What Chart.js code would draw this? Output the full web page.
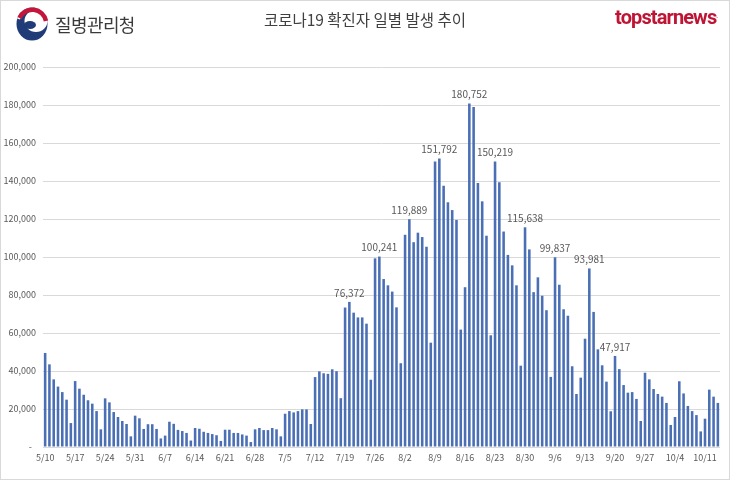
<!DOCTYPE html>
<html>
<head>
<meta charset="utf-8">
<script src="https://cdn.jsdelivr.net/npm/chart.js@4.4.0/dist/chart.umd.min.js"></script>
<style>
  html, body { margin: 0; padding: 0; background: #fff; }
  #wrap { position: relative; width: 730px; height: 480px; overflow: hidden; }
  #chart { position: absolute; left: 0; top: 0; }
  #frame { position: absolute; left: 0; top: 0; width: 730px; height: 480px; box-sizing: border-box; border: 1px solid #d9d9d9; pointer-events: none; }
  #title { position: absolute; left: 0; top: 8px; width: 730px; text-align: center; font: 15.5px 'Noto Sans CJK KR', sans-serif; color: #404040; }
  #kdca { position: absolute; left: 55px; top: 11px; font: 18px 'Noto Sans CJK KR', sans-serif; color: #3a3a3a; letter-spacing: -0.6px; }
  #emblem { position: absolute; left: 16px; top: 7px; }
  #brand { position: absolute; right: 12px; top: 5px; font: bold 20px Roboto, sans-serif; color: #bf1535; letter-spacing: -0.9px; }
  #brand sup { font-size: 6px; letter-spacing: 0; vertical-align: 6px; }
</style>
</head>
<body>
<div id="wrap">
  <canvas id="chart" width="730" height="480"></canvas>
  <svg id="emblem" width="33" height="34" viewBox="0 0 33 34">
    <ellipse cx="16" cy="17" rx="15.5" ry="16.5" fill="#1f3c78"/>
    <ellipse cx="20" cy="14" rx="11.5" ry="11" fill="#fff"/>
    <ellipse cx="14" cy="18" rx="6" ry="4" fill="#1f3c78"/>
    <path d="M2.5 12 A15 15 0 0 1 31 13" fill="none" stroke="#fff" stroke-width="3"/>
    <path d="M3.5 11 A14 14 0 0 1 30 14" fill="none" stroke="#c4163a" stroke-width="4.5"/>
  </svg>
  <div id="kdca">질병관리청</div>
  <div id="title">코로나19 확진자 일별 발생 추이</div>
  <div id="brand">topstarnews<sup>.</sup></div>
  <div id="frame"></div>
</div>
<script>
// daily confirmed cases
const mayValues = [49500, 43500, 35600, 31800, 28900, 24900, 12600, 34700, 30700, 27500, 24600,
  22800, 18900, 9300, 25600, 23500, 18400, 15800, 13700, 12100, 5600, 16500];            // 5/10 - 5/31
const juneValues = [15100, 9500, 12000, 12000, 9500, 4500, 6000, 13300, 12200, 9000, 8400, 7400,
  3400, 10000, 9600, 8000, 7400, 6800, 6200, 3200, 9100, 9100, 7400, 7400, 6600, 6000, 2600,
  9300, 10000, 8900];                                                                    // 6/1 - 6/30
const julyValues = [8900, 10000, 9300, 5600, 17500, 18900, 18200, 18900, 19800, 19800, 12100,
  36800, 39800, 38800, 38500, 40900, 39900, 25700, 73400, 76372, 70700, 68200, 68200, 64900,
  35400, 99300, 100241, 88400, 85100, 81800, 73500];                                     // 7/1 - 7/31
const augValues = [44100, 111700, 119889, 107800, 112800, 110500, 105400, 54900, 150200, 151792,
  137500, 128800, 124700, 119500, 61800, 84100, 180752, 179000, 138900, 129300, 111200, 58800,
  150219, 139300, 113400, 101100, 95600, 85100, 42800, 115638, 104000];                  // 8/1 - 8/31
const sepValues = [81500, 89300, 79600, 72000, 36900, 99837, 85400, 72500, 69100, 42500, 27900,
  36500, 57000, 93981, 71100, 51400, 43000, 34400, 18800, 47917, 41000, 32600, 28600, 28900,
  25300, 13700, 39100, 35600, 30500, 27900];                                             // 9/1 - 9/30
const octValues = [26500, 23200, 11600, 15800, 34600, 28200, 21600, 18900, 16800, 8200, 14900,
  30200, 26500, 23200];                                                                  // 10/1 - 10/14

const xTickLabels = ["5/10", "5/17", "5/24", "5/31", "6/7", "6/14", "6/21", "6/28", "7/5", "7/12",
  "7/19", "7/26", "8/2", "8/9", "8/16", "8/23", "8/30", "9/6", "9/13", "9/20", "9/27", "10/4", "10/11"];
const labeledDates = ["7/20", "7/27", "8/3", "8/10", "8/17", "8/23", "8/30", "9/6", "9/14", "9/20"];

// month, first day shown, values
const months = [[5, 10, mayValues], [6, 1, juneValues], [7, 1, julyValues],
                [8, 1, augValues], [9, 1, sepValues], [10, 1, octValues]];
const dates = [];
const values = [];
months.forEach(([m, first, vals]) => {
  vals.forEach((v, i) => { dates.push(m + "/" + (first + i)); values.push(v); });
});

const FONT = "'Noto Sans CJK KR', 'Noto Sans', sans-serif";

const valueLabels = {
  id: "valueLabels",
  afterDatasetsDraw(chart) {
    const meta = chart.getDatasetMeta(0);
    const c = chart.ctx;
    c.save();
    c.font = "10px " + FONT;
    c.fillStyle = "#595959";
    c.textAlign = "center";
    c.textBaseline = "bottom";
    labeledDates.forEach(d => {
      const i = dates.indexOf(d);
      if (i < 0) return;
      const bar = meta.data[i];
      c.fillText(values[i].toLocaleString("en-US"), bar.x, bar.y - 4);
    });
    c.restore();
  }
};

new Chart(document.getElementById("chart"), {
  type: "bar",
  data: {
    labels: dates,
    datasets: [{ data: values, backgroundColor: "#4a6fb5", barPercentage: 0.6, categoryPercentage: 1 }]
  },
  options: {
    responsive: false,
    animation: false,
    layout: { padding: { left: 0, right: 10, top: 67, bottom: 13 } },
    plugins: { legend: { display: false }, tooltip: { enabled: false } },
    scales: {
      x: {
        grid: { display: false, drawTicks: false },
        border: { display: false },
        ticks: {
          autoSkip: false, maxRotation: 0, minRotation: 0, padding: 5,
          color: "#595959", font: { size: 9, family: FONT },
          callback: (v, i) => xTickLabels.includes(dates[i]) ? dates[i] : null
        },
        afterFit(s) { s.height = 20; }
      },
      y: {
        min: 0, max: 200000,
        grid: { color: "#d9d9d9", drawTicks: false },
        border: { display: false },
        ticks: {
          stepSize: 20000, padding: 7,
          color: "#595959", font: { size: 9, family: FONT },
          callback: v => v === 0 ? "-  " : v.toLocaleString("en-US")
        },
        afterFit(s) { s.width = 43; }
      }
    }
  },
  plugins: [valueLabels]
});
</script>
</body>
</html>
